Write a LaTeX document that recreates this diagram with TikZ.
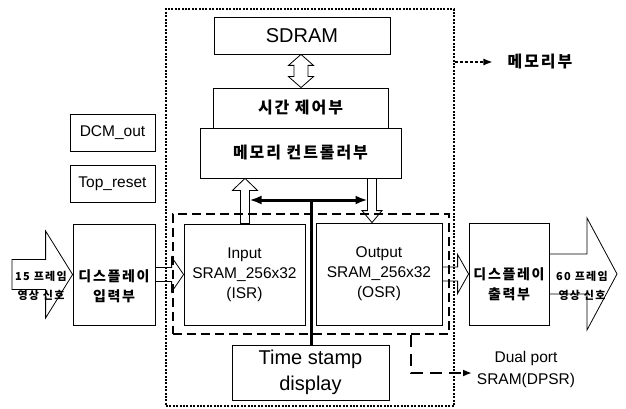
\documentclass[tikz,border=0pt]{standalone}
\usepackage{fontspec}
\setmainfont{Liberation Sans}
\newfontfamily\kr{Noto Sans CJK KR}[LetterSpace=12]
\usetikzlibrary{calc,arrows.meta}

% hollow block arrow: #1 tail, #2 tip, #3 shaft half width, #4 head half width, #5 head length
\newcommand\blockarrow[5]{%
  \path ($(#2)!#5!(#1)$) coordinate (ba-h);
  \draw[hollowarrow] ($(#1)!#3!90:(#2)$) -- ($(ba-h)!#3!-90:(#1)$) -- ($(ba-h)!#4!-90:(#1)$)
    -- (#2) -- ($(ba-h)!#4!90:(#1)$) -- ($(ba-h)!#3!90:(#1)$) -- ($(#1)!#3!-90:(#2)$) -- cycle;
}
% hollow block arrow with heads at both ends
\newcommand\blockarrowtwo[5]{%
  \path ($(#2)!#5!(#1)$) coordinate (bb-h) ($(#1)!#5!(#2)$) coordinate (bb-t);
  \draw[hollowarrow] (#1) -- ($(bb-t)!#4!90:(#2)$) -- ($(bb-t)!#3!90:(#2)$)
    -- ($(bb-h)!#3!-90:(#1)$) -- ($(bb-h)!#4!-90:(#1)$) -- (#2)
    -- ($(bb-h)!#4!90:(#1)$) -- ($(bb-h)!#3!90:(#1)$)
    -- ($(bb-t)!#3!-90:(#2)$) -- ($(bb-t)!#4!-90:(#2)$) -- cycle;
}

\begin{document}
\begin{tikzpicture}[x=1pt,y=-1pt,
  box/.style={draw, line width=0.8pt, fill=white, inner sep=0pt, align=center},
  hollowarrow/.style={draw, line width=0.8pt, line join=miter},
  lat/.style={font=\fontsize{15.5}{20}\selectfont},
  big/.style={font=\fontsize{20}{26}\selectfont},
  krm/.style={font=\kr\bfseries\fontsize{16}{19}\selectfont},
  krs/.style={font=\kr\bfseries\fontsize{14}{20}\selectfont},
  krt/.style={font=\kr\bfseries\fontsize{11}{19}\selectfont},
  memframe/.style={draw, line width=1.2pt, dash pattern=on 2pt off 1.4pt, inner sep=0pt},
  dpframe/.style={draw, line width=1.6pt, dash pattern=on 9pt off 5pt, inner sep=0pt},
  bus/.style={line width=3pt},
  plain/.style={inner sep=0pt, align=center}
]
\useasboundingbox (0,0) rectangle (626,409);

% memory block frame and DPSR frame
\node[memframe, minimum width=288pt, minimum height=397pt] (mem) at (310,207.5) {};
\node[dpframe, minimum width=276pt, minimum height=120pt] (dpsr) at (311,274) {};

% boxes
\node[box, big, minimum width=176pt, minimum height=37pt] (sdram) at (302,35.5) {SDRAM};
\node[box, krm, minimum width=175pt, minimum height=40pt] (tc) at (300.5,108) {시간 제어부};
\node[box, krm, minimum width=201pt, minimum height=50pt] (mc) at (300.5,153) {메모리 컨트롤러부};
\node[box, lat, minimum width=85pt, minimum height=37pt] (dcm) at (112.5,132.5) {DCM\_out};
\node[box, lat, minimum width=85pt, minimum height=37pt] (topr) at (112.5,183.5) {Top\_reset};
\node[box, lat, minimum width=121pt, minimum height=101pt] (isr) at (244.5,274.5) {Input\\SRAM\_256x32\\(ISR)};
\node[box, lat, minimum width=126pt, minimum height=102pt] (osr) at (379,274) {Output\\SRAM\_256x32\\(OSR)};
\node[box, big, minimum width=157pt, minimum height=55pt] (ts) at (310.5,372.5) {Time stamp\\display};
\node[box, minimum width=82pt, minimum height=101pt] (dinL) at (114,274.5) {};
\node[plain, krs] (dinLt) at (114,286) {디스플레이\\입력부};
\node[box, minimum width=80pt, minimum height=102pt] (doutR) at (509,274) {};
\node[plain, krs] (doutRt) at (509,284) {디스플레이\\출력부};

% input and output signal arrows
\coordinate (in15) at (12,274.5);
\coordinate (out60) at (617,274);
\blockarrow{in15}{dinL.west}{15pt}{43.5pt}{27pt}
\blockarrow{doutR.east}{out60}{20pt}{56pt}{30pt}
\node[plain, krt] (in15t) at (41,286) {15 프레임\\영상 신호};
\node[plain, krt] (out60t) at (582,286) {60 프레임\\영상 신호};

% data path arrows
\blockarrow{dinL.east}{isr.west}{7pt}{17.5pt}{12pt}
\blockarrow{osr.east}{doutR.west}{7pt}{19.5pt}{11pt}
\coordinate (upx) at (245,0);
\coordinate (ua0) at (upx |- isr.north);
\coordinate (ua1) at (upx |- mc.south);
\blockarrow{ua0}{ua1}{4.5pt}{12.5pt}{12pt}
\coordinate (dnx) at (372,0);
\coordinate (da0) at (dnx |- mc.south);
\coordinate (da1) at (dnx |- osr.north);
\blockarrow{da0}{da1}{4.5pt}{10pt}{12pt}
\coordinate (sx) at (301,0);
\coordinate (s0) at (sx |- sdram.south);
\coordinate (s1) at (sx |- tc.north);
\blockarrowtwo{s0}{s1}{7pt}{12.5pt}{11pt}

% time stamp bus
\coordinate (busL) at (249.5,200);
\coordinate (busR) at (367.5,200);
\coordinate (busM) at (311,200);
\draw[bus, {Latex[length=12pt,width=9pt]}-{Latex[length=12pt,width=9pt]}] (busL) -- (busR);
\draw[bus] (busM) -- (busM |- ts.north);

% labels with pointers
\node[plain, krm] (mlab) at (540,62) {메모리부};
\draw[line width=1.2pt, dash pattern=on 3pt off 2pt, -{Latex[length=9pt,width=7pt]}, shorten >=15pt]
  (mem.east |- mlab.west) -- (mlab.west);
\node[plain, lat, font=\fontsize{15.5}{22}\selectfont] (dplab) at (526,369) {Dual port\\SRAM(DPSR)};
\coordinate (dpx) at (411,0);
\coordinate (dparr) at (472,373);
\draw[line width=2pt, dash pattern=on 12pt off 7pt, -{Latex[length=9pt,width=7pt]}]
  (dpx |- dpsr.south) |- (dparr);
\end{tikzpicture}
\end{document}
